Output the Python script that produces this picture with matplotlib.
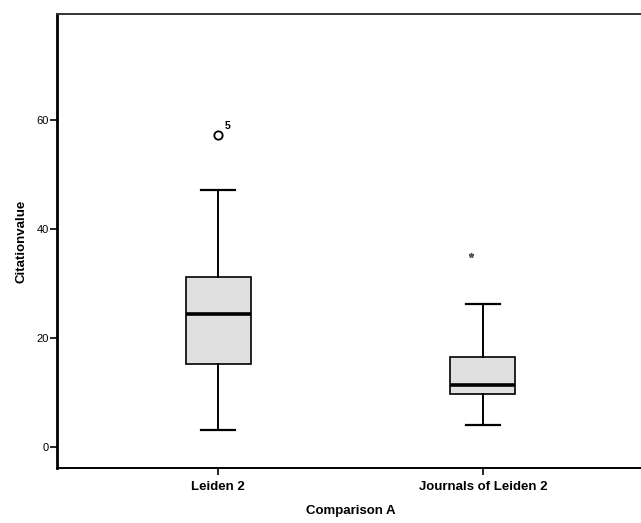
import matplotlib
matplotlib.use("Agg")
import matplotlib.pyplot as plt

plt.rcParams['font.family'] = ['Liberation Sans', 'DejaVu Sans']

# Box plot summary values
categories = ["Leiden 2", "Journals of Leiden 2"]
whisker_low = [3.1, 3.9]
q1 = [15.2, 9.6]
median = [24.3, 11.4]
q3 = [31.2, 16.4]
whisker_high = [47.1, 26.2]

# Outliers (circle) and extremes (star), with case labels
outlier_values = [[57.2], []]
outlier_labels = [["5"], []]
extreme_values = [[], [35.2]]

yticks = [0, 20, 40, 60]

stats = []
for i, name in enumerate(categories):
    stats.append(dict(label=name, whislo=whisker_low[i], q1=q1[i], med=median[i],
                      q3=q3[i], whishi=whisker_high[i], fliers=[]))

fig = plt.figure(figsize=(6.41, 5.23), dpi=100)
ax = fig.add_axes([57 / 641, 1 - 468 / 523, 587 / 641, (468 - 14) / 523])

positions = [1, 2]
ax.bxp(stats, positions=positions, widths=0.245, capwidths=0.128, patch_artist=True,
       showfliers=False,
       boxprops=dict(facecolor='#e0e0e0', edgecolor='black', linewidth=1.2),
       whiskerprops=dict(color='black', linewidth=1.4),
       capprops=dict(color='black', linewidth=1.6),
       medianprops=dict(color='black', linewidth=2.6))

for i, pos in enumerate(positions):
    for v, lab in zip(outlier_values[i], outlier_labels[i]):
        ax.plot(pos, v, marker='o', markersize=6, markerfacecolor='white',
                markeredgecolor='black', markeredgewidth=1.3, linestyle='none')
        ax.annotate(lab, (pos, v), xytext=(5, 4), textcoords='offset points',
                    fontsize=7.5, fontweight='bold')
    for v in extreme_values[i]:
        ax.plot(pos - 0.045, v, marker='*', markersize=3.5, color='#555555',
                linestyle='none')

ax.set_xlim(0.392, 2.608)
ax.set_ylim(-3.9, 79.4)
ax.set_yticks(yticks)
ax.set_yticklabels([str(t) for t in yticks], fontsize=8)
ax.set_xticks(positions)
ax.set_xticklabels(categories, fontsize=9.5, fontweight='bold')

ax.set_ylabel("Citationvalue", fontsize=9.5, fontweight='bold', labelpad=6)
ax.set_xlabel("Comparison A", fontsize=9.5, fontweight='bold', labelpad=9)

ax.spines['right'].set_visible(False)
ax.spines['left'].set_linewidth(2.0)
ax.spines['bottom'].set_linewidth(1.4)
ax.spines['top'].set_linewidth(1.4)
ax.spines['top'].set_color('#333333')
ax.tick_params(axis='y', length=5, width=1.2, pad=1)
ax.tick_params(axis='x', length=5, width=1.2, pad=4)

fig.savefig("out.png", dpi=100)
